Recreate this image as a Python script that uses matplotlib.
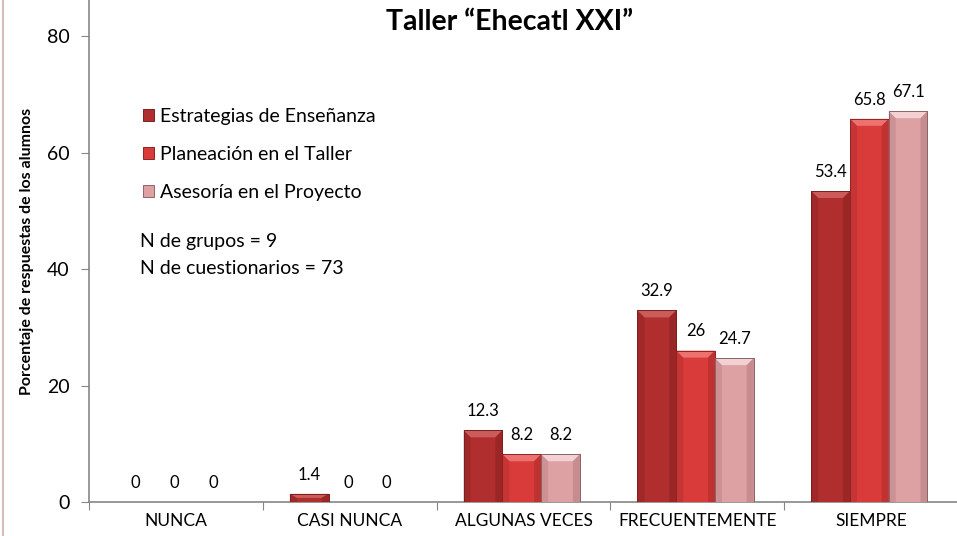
import matplotlib
matplotlib.use("Agg")
import matplotlib.pyplot as plt
from matplotlib.patches import Polygon, Patch
from matplotlib.lines import Line2D
import numpy as np

categories = ["NUNCA", "CASI NUNCA", "ALGUNAS VECES", "FRECUENTEMENTE", "SIEMPRE"]
series_names = ["Estrategias de Enseñanza", "Planeación en el Taller", "Asesoría en el Proyecto"]
estrategias = [0, 1.4, 12.3, 32.9, 53.4]
planeacion = [0, 0, 8.2, 26, 65.8]
asesoria = [0, 0, 8.2, 24.7, 67.1]
value_labels = [
    ["0", "1.4", "12.3", "32.9", "53.4"],
    ["0", "0", "8.2", "26", "65.8"],
    ["0", "0", "8.2", "24.7", "67.1"],
]
yticks = [0, 20, 40, 60, 80]

base_colors = ["#B02E2E", "#D93B3B", "#DDA0A3"]
top_colors = ["#CC5C5A", "#EC7270", "#F3D0D1"]
side_colors = ["#8E2222", "#B02C2C", "#B88083"]
edge_colors = ["#7A2020", "#8E2424", "#8A6666"]

plt.rcParams['font.family'] = ['Lato', 'DejaVu Sans']

W, H = 957, 536
fig = plt.figure(figsize=(W / 100, H / 100), dpi=100)
ax = fig.add_axes([89 / W, (H - 502) / H, (958 - 89) / W, 502 / H])

x = np.arange(len(categories))
bw = 0.223
offsets = [-bw, 0, bw]
data = [estrategias, planeacion, asesoria]

ymax = 86.2
ax.set_ylim(0, ymax)
ax.set_xlim(-0.5, 4.5)

# pixel scales for bevel
px_x = 1 / ((958 - 89) / 5)
px_y = ymax / 502

for i, vals in enumerate(data):
    bars = ax.bar(x + offsets[i] - 0.01, vals, width=bw, color=base_colors[i],
                  edgecolor=edge_colors[i], linewidth=0.7, zorder=3)
    for b, lab in zip(bars, value_labels[i]):
        h = b.get_height()
        x0 = b.get_x()
        x1 = x0 + b.get_width()
        if h > 0:
            dx = 7 * px_x
            dy = min(7 * px_y, h / 2)
            ax.add_patch(Polygon([(x0, h), (x1, h), (x1 - dx, h - dy), (x0 + dx, h - dy)],
                                 closed=True, facecolor=top_colors[i], edgecolor='none', zorder=4))
            ax.add_patch(Polygon([(x0, 0), (x0, h), (x0 + dx, h - dy), (x0 + dx, 0)],
                                 closed=True, facecolor=side_colors[i], edgecolor='none', alpha=0.45, zorder=4))
            ax.add_patch(Polygon([(x1, 0), (x1, h), (x1 - dx, h - dy), (x1 - dx, 0)],
                                 closed=True, facecolor=side_colors[i], edgecolor='none', alpha=0.6, zorder=4))
            ax.add_patch(plt.Rectangle((x0, 0), b.get_width(), h, facecolor='none',
                                       edgecolor=edge_colors[i], linewidth=0.7, zorder=5))
        ax.annotate(lab, (x0 + b.get_width() / 2, h), xytext=(0, 8), textcoords='offset points',
                    ha='center', va='bottom', fontsize=12, color='black', zorder=6)

# axes styling
for s in ['top', 'right']:
    ax.spines[s].set_visible(False)
for s in ['left', 'bottom']:
    ax.spines[s].set_color('#868686')
    ax.spines[s].set_linewidth(1.2)
ax.set_yticks(yticks)
ax.set_yticklabels([str(t) for t in yticks], fontsize=14)
ax.tick_params(axis='y', direction='out', length=6, color='#868686', pad=8)
ax.set_xticks(np.arange(-0.5, 5.0, 1.0))
ax.set_xticklabels([])
ax.tick_params(axis='x', which='major', direction='out', length=6, color='#868686')
ax.set_xticks(x, minor=True)
ax.set_xticklabels(categories, minor=True, fontsize=12.5)
ax.tick_params(axis='x', which='minor', length=0, pad=8)

ax.set_ylabel("Porcentaje de respuestas de los alumnos", fontsize=11.5, fontweight='bold')
ax.yaxis.set_label_coords(-(89 - 34) / (958 - 89), 0.5)

fig.text(510 / W, 1 - 22 / H, "Taller “Ehecatl XXI”", ha='center', va='center',
         fontsize=20.5, fontweight='bold')

# legend
handles = [Patch(facecolor=base_colors[i], edgecolor=edge_colors[i], linewidth=0.7) for i in range(3)]
leg = fig.legend(handles, series_names, loc='upper left', bbox_to_anchor=(135 / W, 1 - 100 / H),
                 frameon=False, fontsize=14, labelspacing=1.08, handlelength=0.6, handleheight=0.6,
                 handletextpad=0.3, borderaxespad=0)

fig.text(140 / W, 1 - 242 / H, "N de grupos = 9", ha='left', va='center', fontsize=14)
fig.text(140 / W, 1 - 268 / H, "N de cuestionarios = 73", ha='left', va='center', fontsize=14)

# left pink border
fig.add_artist(Line2D([2.5 / W, 2.5 / W], [0, 1], color='#D6BCBD', linewidth=1.5))

fig.savefig("out.png", dpi=100)
